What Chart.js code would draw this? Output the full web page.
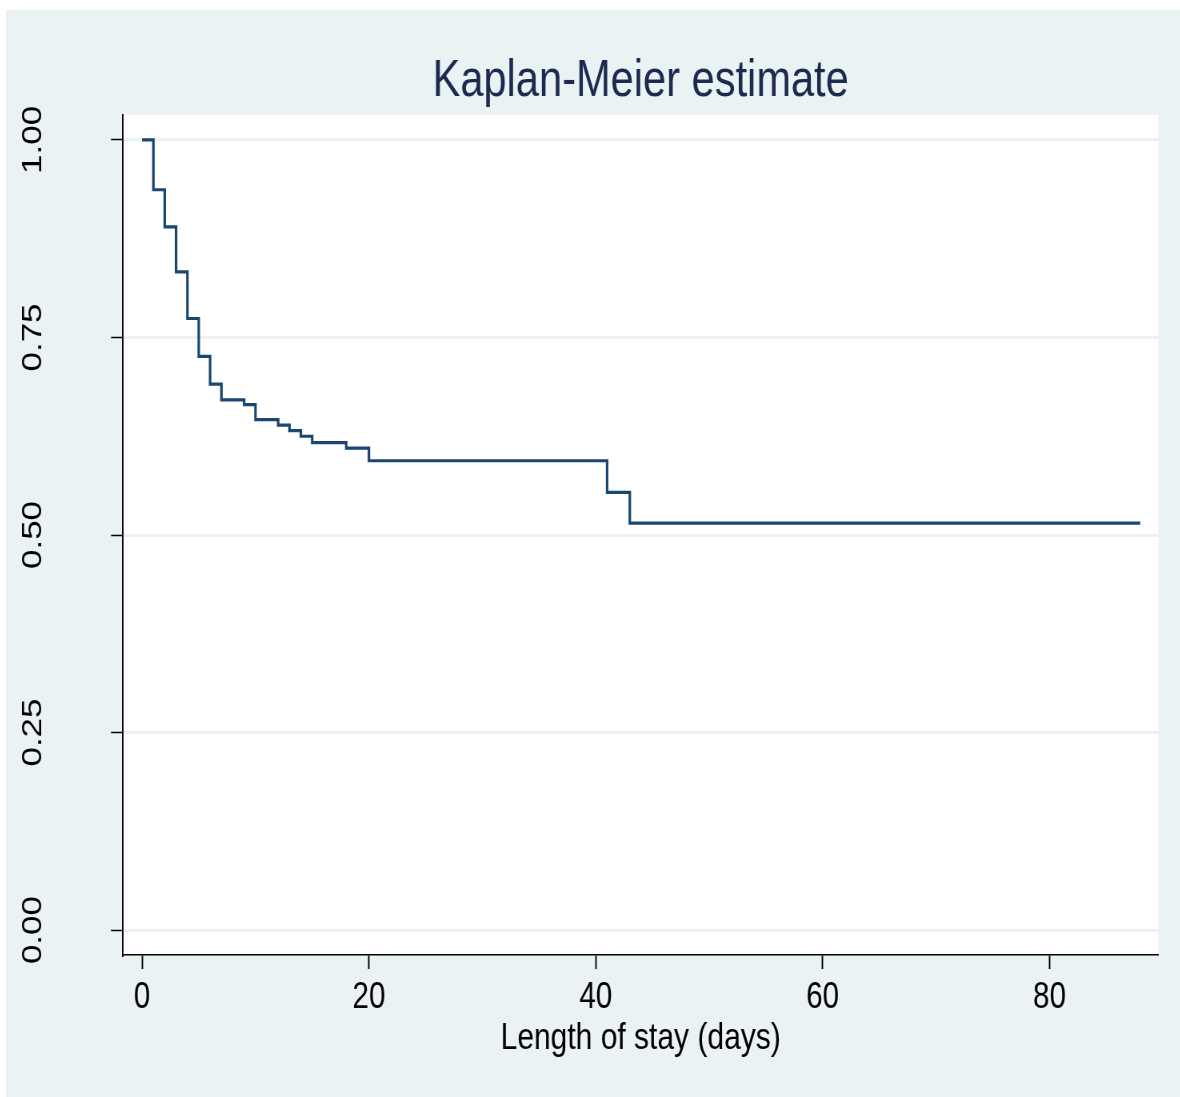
<!DOCTYPE html>
<html>
<head>
<meta charset="utf-8">
<script src="https://cdn.jsdelivr.net/npm/chart.js@4"></script>
<style>
  body { margin: 0; background: #fff; overflow: hidden; }
  #wrap { position: absolute; left: 6px; top: 10px; width: 1174px; height: 1087px; background: #eaf2f3; overflow: hidden; }
  /* the reference is squeezed horizontally (narrow text), so draw wide and compress */
  #kmChart { transform: scaleX(0.8); transform-origin: 0 0; }
</style>
</head>
<body>
<div id="wrap"><canvas id="kmChart" width="1468" height="1087"></canvas></div>
<script>
// KM step points
const times = [0, 1, 2, 3, 4, 5, 6, 7, 9, 10, 12, 13, 14, 15, 18, 20, 41, 43, 88];
const survival = [1.000, 0.937, 0.890, 0.833, 0.774, 0.726, 0.691, 0.671, 0.665, 0.646, 0.639, 0.632, 0.625, 0.617, 0.610, 0.594, 0.554, 0.515, 0.515];
const xTicks = [0, 20, 40, 60, 80];
const yTicks = [0, 0.25, 0.5, 0.75, 1];

const sans = "'Liberation Sans', Arial, sans-serif";

// white plot region on the blue-grey background
const plotBg = {
    id: 'plotBg',
    beforeDraw(chart) {
        const a = chart.chartArea;
        const ctx = chart.ctx;
        ctx.save();
        ctx.fillStyle = '#ffffff';
        ctx.fillRect(a.left, a.top, a.right - a.left, a.bottom - a.top);
        ctx.restore();
    }
};

window.onload = function() {
    const ctx = document.getElementById('kmChart').getContext('2d');
    const kmChart = new Chart(ctx, {
        type: 'line',
        data: {
            datasets: [{
                data: times.map((t, i) => ({ x: t, y: survival[i] })),
                stepped: 'before',
                borderColor: '#1a476f',
                borderWidth: 3.2,
                pointRadius: 0,
                fill: false
            }]
        },
        options: {
            responsive: false,
            animation: false,
            layout: { padding: { left: 0, right: 27.5, top: 0, bottom: 0 } },
            scales: {
                x: {
                    type: 'linear',
                    min: -1.68,
                    max: 89.6,
                    afterBuildTicks: axis => { axis.ticks = xTicks.map(v => ({ value: v })); },
                    afterFit: scale => { scale.height = 142; },
                    grid: { drawOnChartArea: false, tickLength: 14, tickColor: '#000', tickWidth: 1.9 },
                    border: { color: '#000', width: 1.5 },
                    ticks: { maxRotation: 0, padding: 7, color: '#000', font: { family: sans, size: 37 } },
                    title: {
                        display: true,
                        text: 'Length of stay (days)',
                        color: '#000',
                        font: { family: sans, size: 37.5 },
                        padding: { top: 0, bottom: 36 }
                    }
                },
                y: {
                    min: -0.0316,
                    max: 1.0316,
                    afterBuildTicks: axis => { axis.ticks = yTicks.map(v => ({ value: v })); },
                    afterFit: scale => { scale.width = 146.25; },
                    grid: { color: '#eaf2f3', lineWidth: 3, tickLength: 15, tickColor: '#000', tickWidth: 1.5 },
                    border: { color: '#000', width: 1.9 },
                    ticks: {
                        minRotation: 90,
                        maxRotation: 90,
                        crossAlign: 'center',
                        padding: 63,
                        color: '#000',
                        font: { family: sans, size: 35 },
                        callback: v => v.toFixed(2)
                    }
                }
            },
            plugins: {
                legend: { display: false },
                tooltip: { enabled: false },
                title: {
                    display: true,
                    fullSize: false,
                    text: 'Kaplan-Meier estimate',
                    color: '#1c2a50',
                    font: { family: sans, size: 52, weight: 'normal', lineHeight: 1 },
                    padding: { top: 46, bottom: 7 }
                }
            }
        },
        plugins: [plotBg]
    });
}
</script>
</body>
</html>
